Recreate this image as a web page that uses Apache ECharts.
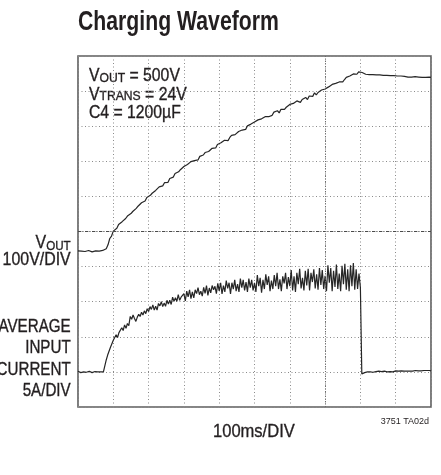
<!DOCTYPE html>
<html>
<head>
<meta charset="utf-8">
<script src="https://cdn.jsdelivr.net/npm/echarts@6/dist/echarts.min.js"></script>
<style>
  html, body { margin: 0; padding: 0; background: #fff; }
  #chart { width: 441px; height: 475px; }
</style>
</head>
<body>
<div id="chart"></div>
<script>
// Scope capture: 100ms/DIV horizontally, 10 divisions.
const timeDivMs = 100;
const timeDivs = 10;

// VOUT trace, one sample every 5 ms, in volts (100V/DIV).
const voutSampleMs = 5;
const voutVolts = [
  0,2,-1,1,-2,0,1,-1,-3,-2,0,2,-1,-2,1,0,
  6,17,35,42,56,60,64,75,75,83,83,92,99,99,106,112,111,121,127,128,137,137,142,152,150,
  158,164,164,172,171,182,182,185,194,195,195,206,209,210,220,217,225,231,230,240,
  238,246,246,254,250,257,262,259,269,268,273,280,277,283,283,292,294,293,303,299,
  308,306,315,313,314,323,329,324,331,331,340,335,344,347,346,356,354,361,357,367,
  364,373,371,376,373,382,386,382,387,386,395,392,399,393,403,407,403,409,407,417,
  413,420,416,427,425,423,431,430,437,431,441,441,440,450,444,451,450,458,454,461,
  458,467,464,474,470,477,472,481,486,481,488,494,490,498,493,504,503,503,510,510,
  508,504,503,501,502,500,502,500,501,499,501,499,500,498,500,498,499,497,499,497,
  498,496,498,496,497,496,495,497,495,496,496,494,495,495,494,496,494,494,495,494
];

// Average input current trace, one sample every 4 ms, in amps (5A/DIV).
const currentSampleMs = 4;
const currentAmps = [
  0.1,0,-0.1,0.05,0,0.1,-0.05,0,0.1,0,-0.1,0,0.05,0.1,0,-0.05,0,0.1,0,-0.1,
  1.7,2.4,2.6,3.5,3.3,4.5,4.4,5.3,4.9,5.6,5.4,6.3,5.9,6.7,6.2,6.9,6.6,7.9,7.5,8.1,
  7.6,7.2,7.8,8.2,7.9,8.5,8.1,8.7,8.3,9.0,8.6,
  9.3,8.9,9.55,8.8,9.35,8.8,9.75,9.4,10.0,9.3,9.8,9.35,10.2,9.65,10.2,9.6,10.65,10.05,10.55,10.05,11.0,10.2,10.65,10.4,11.15,
  10.1,11.5,10.7,11.7,10.45,11.4,10.55,11.7,11.15,12.0,11.0,11.5,10.8,12.05,11.2,12.3,10.9,11.95,11.25,12.3,11.7,12.2,11.15,12.6,11.55,
  12.7,11.1,12.3,11.4,13.0,11.9,12.7,11.1,12.7,11.8,13.1,11.5,12.5,11.4,13.3,12.0,13.1,11.6,12.8,11.4,13.3,12.0,13.1,11.6,12.7,
  11.4,13.8,12.2,13.4,11.3,13.1,11.8,13.9,12.4,13.6,11.5,13.0,11.8,13.8,12.2,14.1,11.8,13.2,11.5,13.6,12.6,14.1,11.8,13.5,12.2,
  14.5,11.6,13.6,11.4,14.1,12.5,14.7,11.9,13.4,11.6,14.4,12.3,14.7,11.6,14.1,12.8,14.6,11.9,13.9,11.7,14.8,12.4,14.5,11.8,13.7,
  11.5,15.2,12.7,14.8,11.5,14.4,12.1,15.3,11.8,14.0,11.5,15.1,12.5,15.4,11.7,14.6,11.5,15.2,12.2,15.5,11.7,14.6,11.8,14.0,12.0,
  -0.3,-0.2,-0.1,-0.15,0,-0.05,0,0.05,-0.05,0,0.05,0,0.1,0,0.05,0,0.1,0.05,0,0.1,
  0.05,0.1,0,0.1,0.15,0.05,0.1,0.1,0.15,0.05,0.1,0.2,0.1,0.15,0.1,0.2,0.1,0.15,0.2,0.1,
  0.15,0.2,0.15,0.1,0.2,0.15,0.2,0.15,0.2,0.15
];

// Vertical scales: 5A/DIV with 0A one division above the bottom,
// 100V/DIV with 0V about 4.45 divisions above the bottom.
const ampsPerDiv = 5;
const ampsMin = -5;
const voltsPerDiv = 100;
const voltsMin = -445;
const verticalDivs = 10;

// Centre graticule lines.
const refTimeMs = 700;
const refAmps = 20;

const voutSeries = voutVolts.map((v, i) => [i * voutSampleMs, v]);
const currentSeries = currentAmps.map((a, i) => [i * currentSampleMs, a]);

const FONT = "'Liberation Sans', Arial, sans-serif";
const INK = '#231f20';
const TRACE = '#262626';
const GRID_DOT = { color: '#8a8a8a', width: 1, type: [1, 2.5] };
// A hairline outline keeps the squeezed glyphs from looking too light.
const WEIGHT = { stroke: INK, lineWidth: 0.35 };

// Text helper: positioned at (x, y), optionally squeezed horizontally
// to imitate the condensed face used on the plot.
function label(x, y, sx, style) {
  return {
    type: 'text', x: x, y: y, scaleX: sx, scaleY: 1, silent: true,
    style: Object.assign({ x: 0, y: 0, fill: INK, verticalAlign: 'top' }, style)
  };
}

function richPart(size, lineHeight, align) {
  return Object.assign({
    fontFamily: FONT, fontSize: size, lineHeight: lineHeight, fill: INK,
    verticalAlign: 'bottom', align: align || 'left'
  }, WEIGHT);
}

const chart = echarts.init(document.getElementById('chart'), null, { renderer: 'canvas' });

chart.setOption({
  backgroundColor: '#fff',
  animation: false,
  grid: {
    left: 78, right: 10, top: 56, bottom: 68,
    show: true, borderColor: '#5e5e5e', borderWidth: 1.6, backgroundColor: 'transparent'
  },
  xAxis: {
    type: 'value', min: 0, max: timeDivMs * timeDivs, interval: timeDivMs,
    axisLine: { show: false }, axisTick: { show: false }, axisLabel: { show: false },
    splitLine: { show: true, lineStyle: GRID_DOT }
  },
  yAxis: [
    {
      type: 'value', min: ampsMin, max: ampsMin + ampsPerDiv * verticalDivs, interval: ampsPerDiv,
      axisLine: { show: false }, axisTick: { show: false }, axisLabel: { show: false },
      splitLine: { show: true, lineStyle: GRID_DOT }
    },
    {
      type: 'value', min: voltsMin, max: voltsMin + voltsPerDiv * verticalDivs,
      show: false, splitLine: { show: false }
    }
  ],
  series: [
    {
      name: 'Average Input Current', type: 'line', yAxisIndex: 0,
      data: currentSeries, showSymbol: false, symbol: 'none',
      lineStyle: { color: TRACE, width: 1.2 },
      markLine: {
        silent: true, symbol: 'none', label: { show: false },
        data: [
          { yAxis: refAmps, lineStyle: { color: '#4a4a4a', width: 1, type: [3, 1.5, 1, 1.5] } },
          { xAxis: refTimeMs, lineStyle: { color: '#6a6a6a', width: 1, type: [1, 1.5] } }
        ]
      },
      z: 3
    },
    {
      name: 'VOUT', type: 'line', yAxisIndex: 1,
      data: voutSeries, showSymbol: false, symbol: 'none',
      lineStyle: { color: TRACE, width: 1.2 },
      z: 3
    }
  ],
  graphic: [
    label(78, 8, 0.758, { text: 'Charging Waveform', font: 'bold 28px ' + FONT }),
    label(89, 66.3, 0.9, {
      text: '{m|V}{s|OUT}{m| = 500V}\n{m|V}{s|TRANS}{m| = 24V}\n{m|C4 = 1200µF}',
      rich: { m: richPart(17.5, 18.7), s: richPart(13.5, 8) }
    }),
    label(70.7, 236.3, 0.86, {
      text: '{m|V}{s|OUT}\n{m|100V/DIV}', align: 'right',
      rich: { m: richPart(18.5, 16.5, 'right'), s: richPart(13.5, 8, 'right') }
    }),
    label(70.7, 316, 0.82, Object.assign({
      text: 'AVERAGE\nINPUT\nCURRENT\n5A/DIV', align: 'right',
      font: '18.5px ' + FONT, lineHeight: 21.5
    }, WEIGHT)),
    label(213, 422.5, 0.87, Object.assign({ text: '100ms/DIV', font: '19px ' + FONT }, WEIGHT)),
    label(429, 417, 1, { text: '3751 TA02d', font: '9px ' + FONT, align: 'right' })
  ]
});
</script>
</body>
</html>
